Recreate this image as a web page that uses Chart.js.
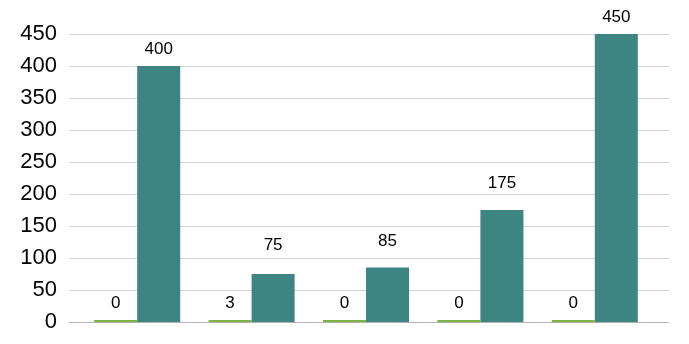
<!DOCTYPE html>
<html>
<head>
<meta charset="utf-8">
<script src="https://cdn.jsdelivr.net/npm/chart.js@4.4.0/dist/chart.umd.min.js"></script>
<style>
  html, body { margin: 0; padding: 0; background: #fff; overflow: hidden; }
  canvas { display: block; }
</style>
</head>
<body>
<canvas id="barChart" width="689" height="344"></canvas>
<script>
const categories = ["1", "2", "3", "4", "5"];
const greenValues = [0, 3, 0, 0, 0];
const tealValues = [400, 75, 85, 175, 450];
const yTicks = [0, 50, 100, 150, 200, 250, 300, 350, 400, 450];

// extra lift for a few labels that sit higher in the original
const tealLabelLift = [0, 12, 10, 10, 0];

const gridLines = {
  id: "gridLines",
  beforeDatasetsDraw(chart) {
    const ctx = chart.ctx;
    const y = chart.scales.y;
    ctx.save();
    yTicks.forEach((t) => {
      const py = Math.round(y.getPixelForValue(t)) + 0.5;
      ctx.strokeStyle = t === 0 ? "#b4b4b4" : "#d4d4d4";
      ctx.lineWidth = 1;
      ctx.beginPath();
      ctx.moveTo(69, py);
      ctx.lineTo(669, py);
      ctx.stroke();
    });
    ctx.restore();
  },
};

const barLabels = {
  id: "barLabels",
  afterDatasetsDraw(chart) {
    const ctx = chart.ctx;
    ctx.save();
    ctx.font = "17px 'Liberation Sans', Arial, sans-serif";
    ctx.fillStyle = "#000";
    ctx.textAlign = "center";
    ctx.textBaseline = "bottom";
    chart.data.datasets.forEach((ds, di) => {
      chart.getDatasetMeta(di).data.forEach((bar, i) => {
        const lift = di === 1 ? tealLabelLift[i] : 0;
        ctx.fillText(String(ds.data[i]), bar.x, bar.y - 8 - lift);
      });
    });
    ctx.restore();
  },
};

const barChart = document.getElementById("barChart");

new Chart(barChart, {
  type: "bar",
  data: {
    labels: categories,
    datasets: [
      {
        data: greenValues,
        backgroundColor: "#7cb342",
        borderWidth: 0,
        minBarLength: 2,
        barPercentage: 1,
        categoryPercentage: 0.752,
      },
      {
        data: tealValues,
        backgroundColor: "#3d8583",
        borderWidth: 0,
        barPercentage: 1,
        categoryPercentage: 0.752,
      },
    ],
  },
  options: {
    responsive: false,
    animation: false,
    events: [],
    plugins: {
      tooltip: { enabled: false },
      legend: { display: false },
      title: { display: false },
    },
    layout: {
      padding: { top: 0, right: 37, bottom: 0, left: 0 },
    },
    scales: {
      x: {
        display: false,
      },
      y: {
        min: 0,
        max: 450,
        afterFit: (scale) => {
          scale.width = 80;
          scale.paddingTop = 34;
          scale.paddingBottom = 22;
        },
        afterBuildTicks: (scale) => {
          scale.ticks = yTicks.map((v) => ({ value: v }));
        },
        grid: { display: false, drawTicks: false },
        border: { display: false },
        ticks: {
          padding: 23,
          color: "#000",
          font: { family: "'Liberation Sans', Arial, sans-serif", size: 22 },
        },
      },
    },
  },
  plugins: [gridLines, barLabels],
});
</script>
</body>
</html>
